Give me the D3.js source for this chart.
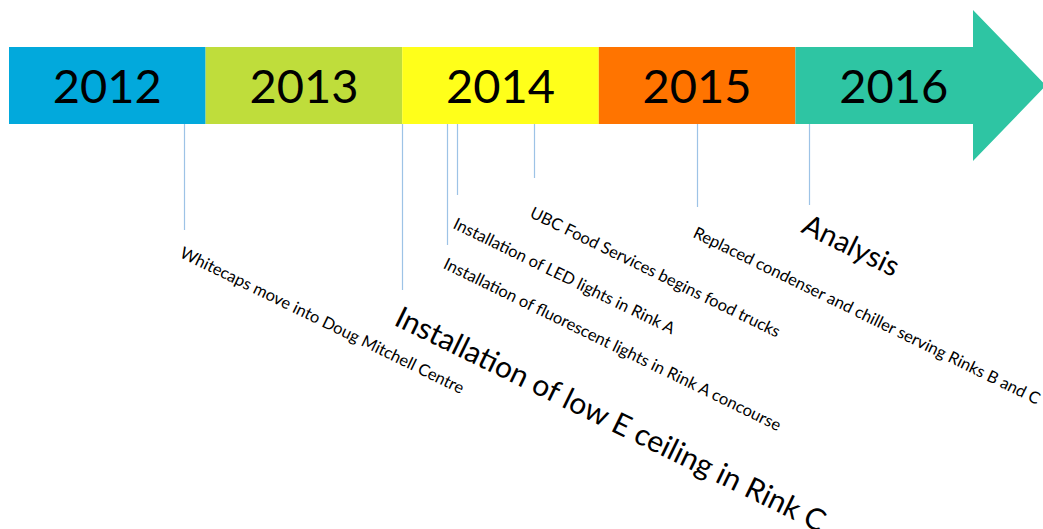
<!DOCTYPE html>
<html>
<head>
<meta charset="utf-8">
<script src="https://cdn.jsdelivr.net/npm/d3@7"></script>
<style>
  body { margin: 0; background: #fff; }
  text { font-family: Lato, "Open Sans", sans-serif; fill: #000; }
</style>
</head>
<body>
<div id="chart"></div>
<script>
// timeline data
var years = ["2012", "2013", "2014", "2015", "2016"];
var yearColors = ["#02a9dc", "#bfdd3b", "#ffff1a", "#ff7400", "#2ec5a3"];
var events = [
    "Whitecaps move into Doug Mitchell Centre",
    "Installation of low E ceiling in Rink C",
    "Installation of fluorescent lights in Rink A concourse",
    "Installation of LED lights in Rink A",
    "UBC Food Services begins food trucks",
    "Replaced condenser and chiller serving Rinks B and C",
    "Analysis"
];
var eventDates = [2012.89, 2014.0, 2014.23, 2014.28, 2014.67, 2015.5, 2016.07];

// layout only (stagger of the leader lines / labels)
var stemEnd = [230, 290, 245, 195, 178, 207, 205];
var labelTop = [246, 305, 257, 217, 206, 226, 213];
var labelSize = [16.5, 30, 16.5, 16.5, 16.5, 16.5, 29];

var width = 1043, height = 529;
var barTop = 47, barBottom = 124, barMid = (barTop + barBottom) / 2;
var headX = 973, headTop = 10, headBottom = 161, tipX = 1046;
var angle = 26;

var svg = d3.select("#chart")
    .append("svg")
    .attr("width", width)
    .attr("height", height);

var x = d3.scaleLinear()
    .domain([2012, 2017])
    .range([9, 992]);

// year blocks (last one becomes the arrow)
svg.append("g")
    .selectAll("rect")
    .data(years.slice(0, years.length - 1))
    .enter()
    .append("rect")
    .attr("x", function (d) { return x(+d); })
    .attr("y", barTop)
    .attr("width", function (d) { return x(+d + 1) - x(+d); })
    .attr("height", barBottom - barTop)
    .attr("fill", function (d, i) { return yearColors[i]; });

var last = +years[years.length - 1];
svg.append("path")
    .attr("d", "M" + x(last) + "," + barTop +
        "L" + headX + "," + barTop +
        "L" + headX + "," + headTop +
        "L" + tipX + "," + barMid +
        "L" + headX + "," + headBottom +
        "L" + headX + "," + barBottom +
        "L" + x(last) + "," + barBottom + "Z")
    .attr("fill", yearColors[years.length - 1]);

svg.append("g")
    .selectAll("text")
    .data(years)
    .enter()
    .append("text")
    .attr("x", function (d) { return (x(+d) + x(+d + 1)) / 2; })
    .attr("y", 103)
    .attr("text-anchor", "middle")
    .style("font-size", "47px")
    .text(function (d) { return d; });

// leader lines
svg.append("g")
    .selectAll("line")
    .data(eventDates)
    .enter()
    .append("line")
    .attr("x1", function (d) { return Math.round(x(d)) + 0.5; })
    .attr("x2", function (d) { return Math.round(x(d)) + 0.5; })
    .attr("y1", barBottom)
    .attr("y2", function (d, i) { return stemEnd[i]; })
    .attr("stroke", "#9dc3e6")
    .attr("stroke-width", 1.2);

// rotated labels
svg.append("g")
    .selectAll("text")
    .data(events)
    .enter()
    .append("text")
    .attr("transform", function (d, i) {
        return "translate(" + x(eventDates[i]) + "," + labelTop[i] + ") rotate(" + angle + ")";
    })
    .attr("dy", "0.72em")
    .style("font-size", function (d, i) { return labelSize[i] + "px"; })
    .text(function (d) { return d; });
</script>
</body>
</html>
